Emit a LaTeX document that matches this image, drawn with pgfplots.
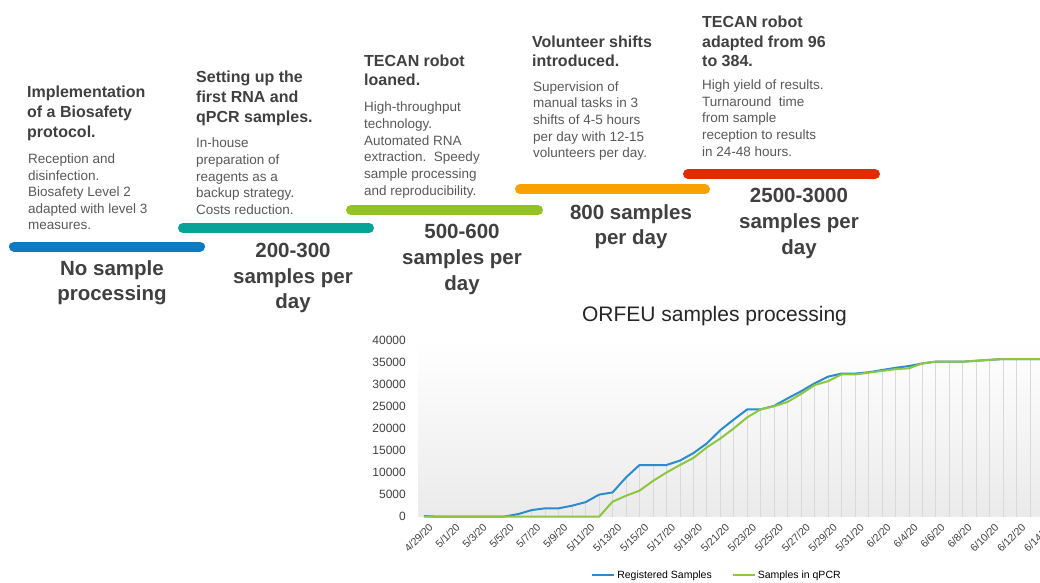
\documentclass[border=0pt]{standalone}
\usepackage{pgfplots}
\pgfplotsset{compat=1.18}
\usepackage{pgfplotstable}
\usepackage{fontspec}
\setmainfont{Liberation Sans}
\definecolor{cA}{HTML}{0F7AC0}
\definecolor{cB}{HTML}{05A398}
\definecolor{cC}{HTML}{92C323}
\definecolor{cD}{HTML}{F9A100}
\definecolor{cE}{HTML}{E52A00}
\definecolor{lblue}{HTML}{2A8CCB}
\definecolor{lgreen}{HTML}{8DC63F}
\definecolor{hdc}{HTML}{404040}
\definecolor{bdc}{HTML}{595959}
\newcommand\hdfont{\fontsize{16}{19}\selectfont\bfseries}
\newcommand\bdfont{\fontsize{13.5}{16}\selectfont}
\newcommand\bgfont{\fontsize{20.5}{25}\selectfont\bfseries}
\newcommand\hd[3]{\node[anchor=base west,inner sep=0pt,font=\hdfont,text=hdc] at (#1,582-#2) {#3};}
\newcommand\bd[3]{\node[anchor=base west,inner sep=0pt,font=\bdfont,text=bdc] at (#1,582-#2) {#3};}
\newcommand\bg[3]{\node[anchor=base,inner sep=0pt,font=\bgfont,text=hdc] at (#1,582-#2) {#3};}

\pgfplotstableread{
d blue green
0 150 0
1 0 0
2 0 0
3 0 0
4 0 0
5 0 0
6 50 0
7 600 0
8 1500 0
9 1900 0
10 1900 0
11 2500 0
12 3300 0
13 5000 0
14 5500 3400
15 8900 4750
16 11700 5900
17 11700 8100
18 11700 10000
19 12700 11700
20 14400 13300
21 16600 15700
22 19600 17700
23 22000 20000
24 24300 22500
25 24300 24300
26 25100 25000
27 26800 26000
28 28400 27800
29 30200 29800
30 31700 30700
31 32400 32200
32 32400 32200
33 32700 32600
34 33200 33000
35 33700 33400
36 34100 33600
37 34700 34700
38 35100 35100
39 35100 35100
40 35100 35100
41 35300 35300
42 35500 35500
43 35700 35700
44 35700 35700
45 35700 35700
46 35700 35700
}\datatable

\begin{document}
\begin{tikzpicture}[x=1pt,y=1pt]
\useasboundingbox (0,0) rectangle (1040,582);
\fill[white] (0,0) rectangle (1040,582);

% timeline bars
\draw[line width=10pt,line cap=round,cA] (14,582-246.5) -- (200,582-246.5);
\draw[line width=10pt,line cap=round,cB] (183,582-228) -- (369,582-228);
\draw[line width=10pt,line cap=round,cC] (351,582-210) -- (538,582-210);
\draw[line width=10pt,line cap=round,cD] (520,582-189.3) -- (705,582-189.3);
\draw[line width=10pt,line cap=round,cE] (688,582-174) -- (875,582-174);

% block 1
\hd{27}{97.5}{Implementation}
\hd{27}{117.5}{of a Biosafety}
\hd{27}{137.5}{protocol.}
\bd{28}{163.5}{Reception and}
\bd{28}{180.5}{disinfection.}
\bd{28}{196.5}{Biosafety Level 2}
\bd{28}{213.5}{adapted with level 3}
\bd{28}{229.5}{measures.}
\bg{112}{275}{No sample}
\bg{112}{300}{processing}

% block 2
\hd{196}{82.5}{Setting up the}
\hd{196}{102.5}{first RNA and}
\hd{196}{122.5}{qPCR samples.}
\bd{196}{147.5}{In-house}
\bd{196}{164.5}{preparation of}
\bd{196}{181.5}{reagents as a}
\bd{196}{197.5}{backup strategy.}
\bd{196}{214.5}{Costs reduction.}
\bg{293}{257}{200-300}
\bg{293}{283}{samples per}
\bg{293}{308}{day}

% block 3
\hd{364}{66.5}{TECAN robot}
\hd{364}{85.5}{loaned.}
\bd{364}{111.5}{High-throughput}
\bd{364}{128.5}{technology.}
\bd{364}{145.5}{Automated RNA}
\bd{364}{161.5}{extraction.\ \ Speedy}
\bd{364}{178.5}{sample processing}
\bd{364}{195.5}{and reproducibility.}
\bg{462}{238}{500-600}
\bg{462}{264}{samples per}
\bg{462}{290}{day}

% block 4
\hd{532}{47.5}{Volunteer shifts}
\hd{532}{66.5}{introduced.}
\bd{533}{91.5}{Supervision of}
\bd{533}{107.5}{manual tasks in 3}
\bd{533}{124.5}{shifts of 4-5 hours}
\bd{533}{141.5}{per day with 12-15}
\bd{533}{157.5}{volunteers per day.}
\bg{631}{219}{800 samples}
\bg{631}{244}{per day}

% block 5
\hd{702}{27.5}{TECAN robot}
\hd{702}{47.5}{adapted from 96}
\hd{702}{66.5}{to 384.}
\bd{702}{89.5}{High yield of results.}
\bd{702}{106.5}{Turnaround\ \ time}
\bd{702}{122.5}{from sample}
\bd{702}{139.5}{reception to results}
\bd{702}{156.5}{in 24-48 hours.}
\bg{799}{202}{2500-3000}
\bg{799}{228}{samples per}
\bg{799}{254}{day}

% chart title
\node[anchor=base,inner sep=0pt,font=\fontsize{21}{25}\selectfont,text=black!85] at (714.5,582-321) {ORFEU samples processing};

\begin{axis}[
  at={(418.6pt,65.3pt)}, anchor=south west,
  width=630.4pt, height=176.7pt, scale only axis,
  xmin=-0.4, xmax=46.4, ymin=0, ymax=40000,
  clip=false,
  axis line style={draw=none},
  major tick length=0pt,
  axis background/.style={top color=white, bottom color=black!8},
  xtick={0,2,...,46},
  xticklabels={4/29/20,5/1/20,5/3/20,5/5/20,5/7/20,5/9/20,5/11/20,5/13/20,5/15/20,5/17/20,5/19/20,5/21/20,5/23/20,5/25/20,5/27/20,5/29/20,5/31/20,6/2/20,6/4/20,6/6/20,6/8/20,6/10/20,6/12/20,6/14/20},
  xticklabel style={rotate=45, anchor=north east, inner sep=1pt, yshift=-6pt, font=\fontsize{10.5}{12}\selectfont, text=black!75},
  ytick={0,5000,...,40000},
  scaled y ticks=false,
  yticklabel style={/pgf/number format/1000 sep={}, /pgf/number format/assume math mode=true, font=\fontsize{12}{14}\selectfont, text=black!75, inner sep=0pt, xshift=-12.6pt},
  legend style={at={(0.4733,-0.33)}, anchor=center, draw=none, fill=none, legend columns=2, font=\fontsize{10.5}{12}\selectfont, /tikz/every even column/.append style={column sep=18pt}},
  legend image code/.code={\draw[#1] (0pt,0pt) -- (22pt,0pt);},
]
\addplot[ycomb, draw=black!15, line width=0.8pt, forget plot] table[x=d,y=blue]{\datatable};
\addplot[lblue, line width=2pt, mark=none] table[x=d,y=blue]{\datatable};
\addlegendentry{Registered Samples}
\addplot[lgreen, line width=2pt, mark=none] table[x=d,y=green]{\datatable};
\addlegendentry{Samples in qPCR}
\end{axis}
\end{tikzpicture}
\end{document}
